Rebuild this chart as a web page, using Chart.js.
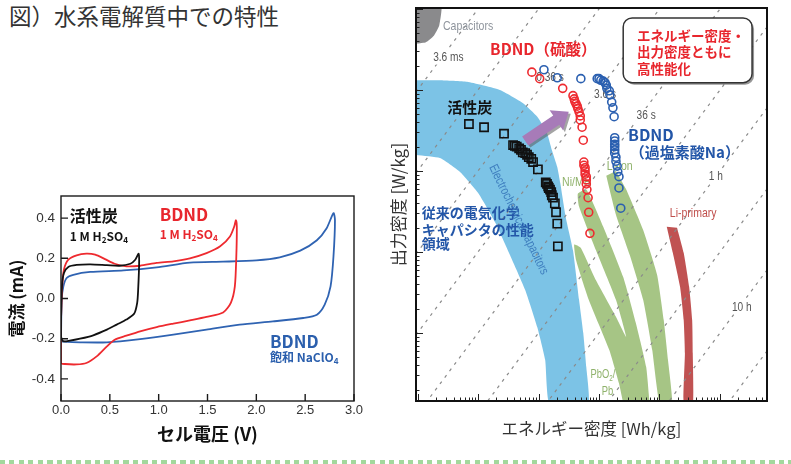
<!DOCTYPE html>
<html>
<head>
<meta charset="utf-8">
<script src="https://cdn.jsdelivr.net/npm/chart.js@4.4.1/dist/chart.umd.min.js"></script>
<style>
html, body { margin: 0; padding: 0; background: #fff; width: 791px; height: 464px; overflow: hidden; }
body { position: relative; font-family: 'Noto Sans CJK JP', sans-serif; }
#title { position: absolute; left: 9px; top: 3px; font-size: 22.5px; line-height: 24px; color: #333; white-space: nowrap; }
#cv { position: absolute; left: 0; top: 180px; }
#ragone { position: absolute; left: 385px; top: 0; }
#dots { position: absolute; left: 0; top: 460px; width: 791px; height: 4px;
  background: repeating-linear-gradient(to right, #a3d89c 0 5px, transparent 5px 9.5px); }
</style>
</head>
<body>
<div id="title">図）水系電解質中での特性</div>
<canvas id="cv" width="380" height="270"></canvas>
<canvas id="ragone" width="406" height="452"></canvas>
<div id="dots"></div>
<script>
var JP = "'Noto Sans CJK JP', 'Noto Sans', sans-serif";
var SANS = "'Liberation Sans', Arial, sans-serif";
var NARROW_SCALE = 0.78;

// ---------- left: CV curves ----------
var cvXTicks = [0, 0.5, 1.0, 1.5, 2.0, 2.5, 3.0];
var cvYTicks = [-0.4, -0.2, 0.0, 0.2, 0.4];

// 活性炭, 1 M H2SO4
var carbonV = [0, 0.01, 0.03, 0.075, 0.16, 0.3, 0.47, 0.6, 0.71, 0.76, 0.795, 0.8, 0.79, 0.78, 0.75, 0.67, 0.57, 0.47, 0.33, 0.195, 0.09, 0.024, 0, 0];
var carbonI = [-0.114, 0.06, 0.127, 0.157, 0.167, 0.17, 0.166, 0.163, 0.173, 0.193, 0.223, 0.176, 0.044, -0.022, -0.075, -0.105, -0.13, -0.155, -0.183, -0.2, -0.21, -0.213, -0.188, -0.114];

// BDND, 1 M H2SO4
var bdndAcidV = [0, 0.01, 0.03, 0.075, 0.16, 0.26, 0.35, 0.45, 0.55, 0.67, 0.81, 0.98, 1.15, 1.32, 1.49, 1.63, 1.73, 1.775, 1.79, 1.8, 1.795, 1.78, 1.74, 1.66, 1.49, 1.32, 1.15, 0.98, 0.81, 0.67, 0.55, 0.47, 0.365, 0.26, 0.16, 0.04, 0, 0];
var bdndAcidI = [-0.114, 0.044, 0.143, 0.193, 0.215, 0.223, 0.218, 0.196, 0.173, 0.16, 0.163, 0.177, 0.185, 0.2, 0.226, 0.26, 0.309, 0.36, 0.39, 0.36, 0.21, 0.06, -0.02, -0.07, -0.092, -0.109, -0.125, -0.142, -0.163, -0.185, -0.205, -0.238, -0.288, -0.321, -0.328, -0.326, -0.321, -0.114];

// BDND, 飽和 NaClO4
var bdndNaV = [0, 0.007, 0.024, 0.058, 0.126, 0.3, 0.64, 0.98, 1.32, 1.66, 2.0, 2.24, 2.45, 2.62, 2.72, 2.79, 2.805, 2.79, 2.76, 2.7, 2.62, 2.48, 2.17, 1.83, 1.49, 1.15, 0.81, 0.47, 0.195, 0.024, 0];
var bdndNaI = [-0.213, -0.006, 0.06, 0.102, 0.118, 0.132, 0.14, 0.155, 0.178, 0.183, 0.19, 0.205, 0.238, 0.29, 0.35, 0.425, 0.39, 0.21, 0.06, -0.031, -0.081, -0.097, -0.114, -0.13, -0.155, -0.18, -0.202, -0.218, -0.218, -0.215, -0.213];

// ---------- right: Ragone plot (log10 of Wh/kg and W/kg) ----------
var axisLogE = [-2.025, 3.777];
var axisLogP = [0.16, 5.012];
var timeLinesLogH = [-6, -5, -4, -3, -2, -1, 0, 1, 2, 3];

var capLogE = [-2.05, -1.61, -1.64, -1.73, -1.86, -2.05];
var capLogP = [5.05, 5.05, 4.80, 4.67, 4.59, 4.57];

var ecLogE = [-2.05, -1.63, -1.18, -0.64, -0.26, -0.02, 0.14, 0.22, 0.31, 0.36, 0.45, 0.57, 0.67, 0.74, 0.79, 0.82, 0.19, 0.11, -0.02, -0.22, -0.47, -0.72, -1.0, -1.30, -1.63, -2.05];
var ecLogP = [4.12, 4.12, 4.10, 4.0, 3.84, 3.67, 3.47, 3.26, 3.05, 2.85, 2.43, 2.02, 1.41, 1.0, 0.58, 0.1, 0.1, 0.67, 1.07, 1.53, 1.96, 2.37, 2.73, 2.99, 3.16, 3.20];

var pbNiLogE = [1.41, 1.33, 1.17, 0.83, 0.62, 0.59, 0.70, 0.95, 1.28, 1.45, 1.28, 0.95, 0.67, 0.65, 0.79, 1.07, 1.40, 1.61, 1.78, 1.84];
var pbNiLogP = [0.1, 0.38, 0.79, 1.41, 1.90, 2.09, 2.05, 1.65, 1.20, 0.95, 1.41, 2.02, 2.56, 2.72, 2.77, 2.31, 1.69, 1.12, 0.58, 0.1];

var liIonLogE = [1.12, 1.28, 1.51, 1.73, 1.88, 2.01, 2.21, 2.14, 2.07, 1.96, 1.73, 1.45, 1.28];
var liIonLogP = [2.94, 2.46, 1.96, 1.41, 0.79, 0.1, 0.1, 0.67, 1.16, 1.72, 2.27, 2.77, 3.0];

var liPrimLogE = [2.12, 2.22, 2.34, 2.40, 2.42, 2.40, 2.55, 2.55, 2.54, 2.49, 2.40, 2.29];
var liPrimLogP = [2.31, 1.99, 1.57, 1.16, 0.75, 0.1, 0.1, 0.75, 1.16, 1.57, 1.99, 2.30];

// 活性炭 (squares)
var acLogE = [-1.15, -0.90, -0.57, -0.42, -0.39, -0.36, -0.32, -0.29, -0.26, -0.22, -0.19, -0.16, -0.12, -0.09, -0.01, 0.12, 0.14, 0.16, 0.17, 0.19, 0.21, 0.22, 0.24, 0.27, 0.29, 0.31, 0.32];
var acLogP = [3.58, 3.54, 3.46, 3.32, 3.31, 3.30, 3.28, 3.26, 3.23, 3.22, 3.20, 3.17, 3.15, 3.11, 3.02, 2.86, 2.84, 2.81, 2.79, 2.77, 2.74, 2.70, 2.67, 2.60, 2.49, 2.35, 2.07];

// BDND 硫酸 (red circles)
var acidLogE = [-0.11, 0.02, 0.40, 0.57, 0.59, 0.60, 0.62, 0.64, 0.65, 0.67, 0.69, 0.69, 0.72, 0.74, 0.75, 0.75, 0.77, 0.77, 0.77, 0.79, 0.79, 0.79, 0.80, 0.82, 0.83, 0.85];
var acidLogP = [4.22, 4.14, 4.02, 3.93, 3.89, 3.86, 3.83, 3.80, 3.77, 3.73, 3.68, 3.63, 3.54, 3.38, 3.11, 3.07, 3.04, 3.00, 2.96, 2.93, 2.89, 2.84, 2.77, 2.67, 2.49, 2.23];

// BDND 過塩素酸Na (blue circles)
var naLogE = [0.09, 0.31, 0.70, 0.97, 1.00, 1.03, 1.07, 1.10, 1.12, 1.13, 1.17, 1.18, 1.21, 1.23, 1.25, 1.26, 1.26, 1.26, 1.26, 1.26, 1.26, 1.28, 1.28, 1.30, 1.31, 1.33, 1.33, 1.36];
var naLogP = [4.25, 4.15, 4.14, 4.14, 4.14, 4.12, 4.11, 4.09, 4.06, 4.02, 3.99, 3.94, 3.85, 3.78, 3.67, 3.41, 3.37, 3.33, 3.30, 3.26, 3.22, 3.17, 3.12, 3.06, 2.99, 2.93, 2.79, 2.54];

// ---------- helpers ----------
function xy(xs, ys) {
    var out = [];
    for (var i = 0; i < xs.length; i++) out.push({x: xs[i], y: ys[i]});
    return out;
}
function xyLog(xs, ys) {
    var out = [];
    for (var i = 0; i < xs.length; i++) out.push({x: Math.pow(10, xs[i]), y: Math.pow(10, ys[i])});
    return out;
}
// text runs, "_x" parts are subscripts; sx squeezes horizontally
function richText(ctx, parts, x, y, size, weight, color, family, sx) {
    sx = sx || 1;
    ctx.save();
    ctx.translate(x, y);
    ctx.scale(sx, 1);
    ctx.fillStyle = color;
    ctx.textBaseline = 'middle';
    ctx.textAlign = 'left';
    var cx = 0;
    parts.forEach(function (p) {
        var sub = p.charAt(0) === '_';
        var s = sub ? p.slice(1) : p;
        ctx.font = weight + ' ' + (sub ? size * 0.68 : size) + 'px ' + family;
        ctx.fillText(s, cx, sub ? size * 0.3 : 0);
        cx += ctx.measureText(s).width;
    });
    ctx.restore();
}

// ---------- CV chart ----------
var cvNotes = [
    {parts: ['活性炭'], v: 0.09, i: 0.41, size: 16, color: '#111'},
    {parts: ['1 M H', '_2', 'SO', '_4'], v: 0.09, i: 0.31, size: 12, color: '#111'},
    {parts: ['BDND'], v: 1.01, i: 0.42, size: 17, color: '#e8262d'},
    {parts: ['1 M H', '_2', 'SO', '_4'], v: 1.01, i: 0.32, size: 12, color: '#e8262d'},
    {parts: ['BDND'], v: 2.14, i: -0.215, size: 17, color: '#2b5fad'},
    {parts: ['飽和 NaClO', '_4'], v: 2.14, i: -0.295, size: 12, color: '#2b5fad'}
];

var cvFrame = {
    id: 'cvFrame',
    afterDraw: function (chart) {
        var ctx = chart.ctx, a = chart.chartArea;
        var xs = chart.scales.x, ys = chart.scales.y;
        ctx.save();
        ctx.strokeStyle = '#1a1a1a';
        ctx.lineWidth = 1.4;
        ctx.strokeRect(a.left, a.top, a.width, a.height);
        ctx.beginPath();
        cvXTicks.forEach(function (v) {
            var x = xs.getPixelForValue(v);
            ctx.moveTo(x, a.bottom);
            ctx.lineTo(x, a.bottom - 7);
        });
        cvYTicks.forEach(function (v) {
            var y = ys.getPixelForValue(v);
            ctx.moveTo(a.left, y);
            ctx.lineTo(a.left + 7, y);
        });
        ctx.stroke();
        cvNotes.forEach(function (n) {
            richText(ctx, n.parts, xs.getPixelForValue(n.v), ys.getPixelForValue(n.i), n.size, 'bold', n.color, JP);
        });
        ctx.restore();
    }
};

function cvDataset(v, i, color) {
    return {
        data: xy(v, i),
        showLine: true,
        borderColor: color,
        borderWidth: 1.8,
        pointRadius: 0,
        tension: 0.25,
        fill: false
    };
}

var cvChart = new Chart(document.getElementById('cv').getContext('2d'), {
    type: 'scatter',
    data: {
        datasets: [
            cvDataset(carbonV, carbonI, '#111111'),
            cvDataset(bdndAcidV, bdndAcidI, '#ee2a2f'),
            cvDataset(bdndNaV, bdndNaI, '#2f63b2')
        ]
    },
    options: {
        responsive: false,
        devicePixelRatio: 1,
        animation: false,
        events: [],
        layout: {padding: {top: 16, right: 26, left: 0, bottom: 0}},
        scales: {
            x: {
                min: 0, max: 3,
                afterBuildTicks: function (s) { s.ticks = cvXTicks.map(function (v) { return {value: v}; }); },
                afterFit: function (s) { s.height = 49; },
                grid: {display: false, drawTicks: false},
                border: {display: false},
                ticks: {
                    padding: 1.5, color: '#333',
                    font: {family: SANS, size: 13},
                    callback: function (v) { return v.toFixed(1); }
                },
                title: {display: true, text: 'セル電圧 (V)', color: '#111', padding: {top: 0, bottom: 5},
                    font: {family: JP, size: 18, weight: 'bold'}}
            },
            y: {
                min: -0.51, max: 0.51,
                afterBuildTicks: function (s) { s.ticks = cvYTicks.map(function (v) { return {value: v}; }); },
                afterFit: function (s) { s.width = 61; },
                grid: {display: false, drawTicks: false},
                border: {display: false},
                ticks: {
                    padding: 6, color: '#333',
                    font: {family: SANS, size: 13.5},
                    callback: function (v) { return v.toFixed(1); }
                },
                title: {display: true, text: '電流 (mA)', color: '#111', padding: {top: 6, bottom: 0},
                    font: {family: JP, size: 17, weight: 'bold'}}
            }
        },
        plugins: {legend: {display: false}, tooltip: {enabled: false}}
    },
    plugins: [cvFrame]
});

// ---------- Ragone chart ----------
var underNotes = [
    {text: 'Capacitors', e: -1.58, p: 4.79, align: 'left', size: 13.5, color: '#8e949c', narrow: true},
    {text: '3.6 ms', e: -1.49, p: 4.40, align: 'center', size: 13, color: '#555', bg: true, narrow: true},
    {text: '0.36 s', e: 0.19, p: 4.15, align: 'center', size: 13, color: '#555', bg: true, narrow: true},
    {text: '3.6 s', e: 1.10, p: 3.94, align: 'center', size: 13, color: '#555', bg: true, narrow: true},
    {text: '36 s', e: 1.78, p: 3.69, align: 'center', size: 13, color: '#555', bg: true, narrow: true},
    {text: '1 h', e: 2.93, p: 2.93, align: 'center', size: 13, color: '#555', bg: true, narrow: true},
    {text: '10 h', e: 3.36, p: 1.32, align: 'center', size: 13, color: '#555', bg: true, narrow: true},
    {text: 'Li-ion', e: 1.13, p: 3.06, align: 'left', size: 13.5, color: '#8fb26b', narrow: true},
    {text: 'Ni/MH', e: 0.39, p: 2.86, align: 'left', size: 13.5, color: '#8fb26b', narrow: true},
    {text: 'Pb', e: 1.14, p: 0.28, align: 'center', size: 12, color: '#8fb26b', narrow: true},
    {text: 'Li-primary', e: 2.17, p: 2.48, align: 'left', size: 13.5, color: '#c0504d', narrow: true},
    {text: '活性炭', e: -1.51, p: 3.78, align: 'left', size: 15, bold: true, color: '#111'},
    {text: '従来の電気化学', e: -1.93, p: 2.48, align: 'left', size: 14, bold: true, color: '#2356a8'},
    {text: 'キャパシタの性能', e: -1.93, p: 2.28, align: 'left', size: 14, bold: true, color: '#2356a8'},
    {text: '領域', e: -1.93, p: 2.10, align: 'left', size: 14, bold: true, color: '#2356a8'}
];
var overNotes = [
    {text: 'BDND（硫酸）', e: -0.80, p: 4.51, align: 'left', size: 15.5, bold: true, color: '#e8262d'},
    {text: 'BDND', e: 1.48, p: 3.44, align: 'left', size: 16, bold: true, color: '#2356a8'},
    {text: '（過塩素酸Na）', e: 1.51, p: 3.23, align: 'left', size: 15, bold: true, color: '#2356a8'}
];
var boxLines = ['エネルギー密度・', '出力密度ともに', '高性能化'];
var boxLogE = [1.40, 3.53];
var boxLogP = [4.89, 4.09];
var boxTextLogE = 1.63;
var boxTextLogP = [4.67, 4.47, 4.26];
var arrowLogE = [-0.22, 0.50];
var arrowLogP = [3.37, 3.73];

function pt(chart, le, lp) {
    return [chart.scales.x.getPixelForValue(Math.pow(10, le)), chart.scales.y.getPixelForValue(Math.pow(10, lp))];
}
function drawNote(ctx, chart, n) {
    var q = pt(chart, n.e, n.p);
    var sx = n.narrow ? NARROW_SCALE : 1;
    ctx.save();
    ctx.font = (n.bold ? 'bold ' : '') + n.size + 'px ' + (n.narrow ? SANS : JP);
    ctx.textAlign = n.align;
    ctx.textBaseline = 'middle';
    if (n.bg) {
        var w = ctx.measureText(n.text).width * sx;
        ctx.fillStyle = '#fff';
        ctx.fillRect(q[0] - w / 2 - 1, q[1] - 7, w + 2, 14);
    }
    ctx.translate(q[0], q[1]);
    ctx.scale(sx, 1);
    ctx.fillStyle = n.color;
    ctx.fillText(n.text, 0, 0);
    ctx.restore();
}
function roundRect(ctx, x, y, w, h, r) {
    ctx.beginPath();
    ctx.moveTo(x + r, y);
    ctx.arcTo(x + w, y, x + w, y + h, r);
    ctx.arcTo(x + w, y + h, x, y + h, r);
    ctx.arcTo(x, y + h, x, y, r);
    ctx.arcTo(x, y, x + w, y, r);
    ctx.closePath();
}
function arrowPath(ctx, a, b, body, head, headLen) {
    var dx = b[0] - a[0], dy = b[1] - a[1];
    var len = Math.sqrt(dx * dx + dy * dy);
    var ux = dx / len, uy = dy / len, nx = -uy, ny = ux;
    var hx = b[0] - ux * headLen, hy = b[1] - uy * headLen;
    ctx.beginPath();
    ctx.moveTo(a[0] + nx * body, a[1] + ny * body);
    ctx.lineTo(hx + nx * body, hy + ny * body);
    ctx.lineTo(hx + nx * head, hy + ny * head);
    ctx.lineTo(b[0], b[1]);
    ctx.lineTo(hx - nx * head, hy - ny * head);
    ctx.lineTo(hx - nx * body, hy - ny * body);
    ctx.lineTo(a[0] - nx * body, a[1] - ny * body);
    ctx.closePath();
}

var labelsDone = false;
var ragoneDecor = {
    id: 'ragoneDecor',
    beforeDraw: function () { labelsDone = false; },
    beforeDatasetDraw: function (chart, args) {
        if (labelsDone || args.meta.order !== 0) return;
        labelsDone = true;
        var ctx = chart.ctx, a = chart.chartArea;
        ctx.save();
        ctx.beginPath();
        ctx.rect(a.left, a.top, a.width, a.height);
        ctx.clip();
        underNotes.forEach(function (n) { drawNote(ctx, chart, n); });
        // PbO2/ with subscript
        var q = pt(chart, 0.86, 0.48);
        richText(ctx, ['PbO', '_2', '/'], q[0], q[1], 12, 'normal', '#8fb26b', SANS, NARROW_SCALE);
        // rotated band label
        var c = pt(chart, -0.33, 2.40);
        ctx.translate(c[0], c[1]);
        ctx.rotate(64 * Math.PI / 180);
        ctx.scale(NARROW_SCALE, 1);
        ctx.font = '13px ' + SANS;
        ctx.fillStyle = '#3f7fbf';
        ctx.textAlign = 'center';
        ctx.textBaseline = 'middle';
        ctx.fillText('Electrochemical capacitors', 0, 0);
        ctx.restore();
    },
    afterDatasetsDraw: function (chart) {
        var ctx = chart.ctx;
        ctx.save();
        // arrow
        var t = pt(chart, arrowLogE[0], arrowLogP[0]), h = pt(chart, arrowLogE[1], arrowLogP[1]);
        ctx.fillStyle = 'rgba(90,90,90,0.55)';
        arrowPath(ctx, [t[0] + 2, t[1] + 2], [h[0] + 2, h[1] + 2], 5.5, 12, 15);
        ctx.fill();
        ctx.fillStyle = '#a77bb8';
        arrowPath(ctx, t, h, 5.5, 12, 15);
        ctx.fill();
        overNotes.forEach(function (n) { drawNote(ctx, chart, n); });
        // callout box
        var p0 = pt(chart, boxLogE[0], boxLogP[0]), p1 = pt(chart, boxLogE[1], boxLogP[1]);
        ctx.fillStyle = 'rgba(80,80,80,0.6)';
        roundRect(ctx, p0[0] + 2, p0[1] + 2, p1[0] - p0[0], p1[1] - p0[1], 9);
        ctx.fill();
        ctx.fillStyle = '#fff';
        ctx.strokeStyle = '#333';
        ctx.lineWidth = 1.5;
        roundRect(ctx, p0[0], p0[1], p1[0] - p0[0], p1[1] - p0[1], 9);
        ctx.fill();
        ctx.stroke();
        ctx.font = 'bold 13.5px ' + JP;
        ctx.fillStyle = '#e8262d';
        ctx.textAlign = 'left';
        ctx.textBaseline = 'middle';
        boxLines.forEach(function (s, k) {
            var q = pt(chart, boxTextLogE, boxTextLogP[k]);
            ctx.fillText(s, q[0], q[1]);
        });
        ctx.restore();
    },
    afterDraw: function (chart) {
        var ctx = chart.ctx, a = chart.chartArea;
        var xs = chart.scales.x, ys = chart.scales.y;
        ctx.save();
        ctx.strokeStyle = '#222';
        ctx.lineWidth = 1;
        ctx.beginPath();
        for (var n = -3; n <= 5; n++) {
            for (var k = 1; k <= 9; k++) {
                var v = k * Math.pow(10, n);
                var len = k === 1 ? 7 : 3.5;
                if (v > xs.min && v < xs.max) {
                    var x = Math.round(xs.getPixelForValue(v)) + 0.5;
                    ctx.moveTo(x, a.bottom);
                    ctx.lineTo(x, a.bottom - len);
                }
                if (v > ys.min && v < ys.max) {
                    var y = Math.round(ys.getPixelForValue(v)) + 0.5;
                    ctx.moveTo(a.left, y);
                    ctx.lineTo(a.left + len, y);
                }
            }
        }
        ctx.stroke();
        ctx.lineWidth = 2;
        ctx.strokeStyle = '#111';
        ctx.strokeRect(a.left, a.top, a.width, a.height);
        ctx.restore();
    }
};

function region(es, ps, color) {
    return {
        data: xyLog(es, ps),
        showLine: true,
        fill: 'shape',
        backgroundColor: color,
        borderWidth: 0,
        borderColor: 'rgba(0,0,0,0)',
        pointRadius: 0,
        tension: 0.15,
        order: 10
    };
}
function markers(es, ps, style, radius, color) {
    return {
        data: xyLog(es, ps),
        showLine: false,
        pointStyle: style,
        pointRadius: radius,
        pointBorderWidth: 1.6,
        pointBorderColor: color,
        pointBackgroundColor: 'rgba(0,0,0,0)',
        order: 0
    };
}

var ragoneSets = [
    region(capLogE, capLogP, '#8a8a8c'),
    region(ecLogE, ecLogP, '#7cc3e6'),
    region(pbNiLogE, pbNiLogP, '#a6c585'),
    region(liIonLogE, liIonLogP, '#a6c585'),
    region(liPrimLogE, liPrimLogP, '#c05252')
];
timeLinesLogH.forEach(function (lt) {
    ragoneSets.push({
        data: xyLog([axisLogE[0], axisLogE[1]], [axisLogE[0] - lt, axisLogE[1] - lt]),
        showLine: true,
        borderColor: '#8a8a8a',
        borderWidth: 1.2,
        borderDash: [3, 5],
        pointRadius: 0,
        fill: false,
        order: 5
    });
});
ragoneSets.push(markers(acLogE, acLogP, 'rect', 5.8, '#111'));
ragoneSets.push(markers(acidLogE, acidLogP, 'circle', 4, '#ee2a2f'));
ragoneSets.push(markers(naLogE, naLogP, 'circle', 4, '#2a5fb0'));

var ragoneChart = new Chart(document.getElementById('ragone').getContext('2d'), {
    type: 'scatter',
    data: {datasets: ragoneSets},
    options: {
        responsive: false,
        devicePixelRatio: 1,
        animation: false,
        events: [],
        layout: {padding: {top: 8, right: 24, left: 0, bottom: 0}},
        scales: {
            x: {
                type: 'logarithmic',
                min: Math.pow(10, axisLogE[0]), max: Math.pow(10, axisLogE[1]),
                afterFit: function (s) { s.height = 51; },
                grid: {display: false, drawTicks: false},
                border: {display: false},
                ticks: {display: false},
                title: {display: true, text: 'エネルギー密度 [Wh/kg]', color: '#333', padding: {top: 0, bottom: 13.5},
                    font: {family: JP, size: 16.5}}
            },
            y: {
                type: 'logarithmic',
                min: Math.pow(10, axisLogP[0]), max: Math.pow(10, axisLogP[1]),
                afterFit: function (s) { s.width = 31; },
                grid: {display: false, drawTicks: false},
                border: {display: false},
                ticks: {display: false},
                title: {display: true, text: '出力密度 [W/kg]', color: '#333', padding: {top: 3, bottom: 0},
                    font: {family: JP, size: 17}}
            }
        },
        plugins: {legend: {display: false}, tooltip: {enabled: false}}
    },
    plugins: [ragoneDecor]
});
</script>
</body>
</html>
